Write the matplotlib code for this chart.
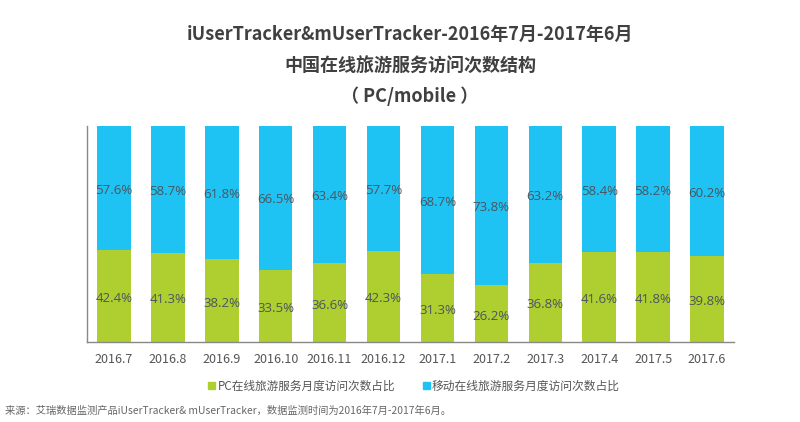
import matplotlib
matplotlib.use('Agg')
import matplotlib.pyplot as plt
from matplotlib.patches import Rectangle

plt.rcParams['font.family'] = ['Noto Sans CJK SC', 'DejaVu Sans']

months = ['2016.7','2016.8','2016.9','2016.10','2016.11','2016.12','2017.1','2017.2','2017.3','2017.4','2017.5','2017.6']
pc = [42.4,41.3,38.2,33.5,36.6,42.3,31.3,26.2,36.8,41.6,41.8,39.8]
mobile = [57.6,58.7,61.8,66.5,63.4,57.7,68.7,73.8,63.2,58.4,58.2,60.2]
pc_label = 'PC在线旅游服务月度访问次数占比'
mobile_label = '移动在线旅游服务月度访问次数占比'
title_lines = ['iUserTracker&mUserTracker-2016年7月-2017年6月', '中国在线旅游服务访问次数结构', '（ PC/mobile ）']
source = '来源：艾瑞数据监测产品iUserTracker& mUserTracker，数据监测时间为2016年7月-2017年6月。'

GREEN = '#AECF2F'
BLUE = '#1FC3F3'
DARK = '#4A5560'
W, H = 800, 422
fig = plt.figure(figsize=(W/100, H/100), dpi=100, facecolor='white')
ax = fig.add_axes([87/W, 1-342/H, (734-87)/W, (342-126)/H])
x = list(range(len(months)))
ax.bar(x, pc, width=0.62, color=GREEN)
ax.bar(x, mobile, width=0.62, bottom=pc, color=BLUE)
ax.set_xlim(-0.5, 11.5)
ax.set_ylim(0, 100)
for i in x:
    ax.text(i, pc[i]/2 - 1.2, f'{pc[i]}%', ha='center', va='center', fontsize=9.5, color=DARK, family=['Open Sans','DejaVu Sans'])
    ax.text(i, pc[i] + mobile[i]/2 - 1, f'{mobile[i]}%', ha='center', va='center', fontsize=9.5, color=DARK, family=['Open Sans','DejaVu Sans'])
ax.set_xticks(x, months)
ax.tick_params(axis='x', length=0, pad=8, labelsize=9, labelcolor='#555555')
ax.set_yticks([])
for s in ['top', 'right']:
    ax.spines[s].set_visible(False)
for s in ['left', 'bottom']:
    ax.spines[s].set_color('#888888')
    ax.spines[s].set_linewidth(1)

for line, y in zip(title_lines, [34, 66, 96]):
    fig.text(410/W, 1-y/H, line, ha='center', va='center', fontsize=13, fontweight='bold', color='#404040')

fig.patches.append(Rectangle((208/W, 1-389/H), 7/W, 7/H, transform=fig.transFigure, color=GREEN))
fig.patches.append(Rectangle((423/W, 1-389/H), 7/W, 7/H, transform=fig.transFigure, color=BLUE))
fig.text(218/W, 1-386/H, pc_label, ha='left', va='center', fontsize=8.4, color='#555555')
fig.text(432/W, 1-386/H, mobile_label, ha='left', va='center', fontsize=8.5, color='#555555')
fig.text(5/W, 1-411/H, source, ha='left', va='center', fontsize=7.42, color='#666666')
fig.savefig('out.png', dpi=100)
